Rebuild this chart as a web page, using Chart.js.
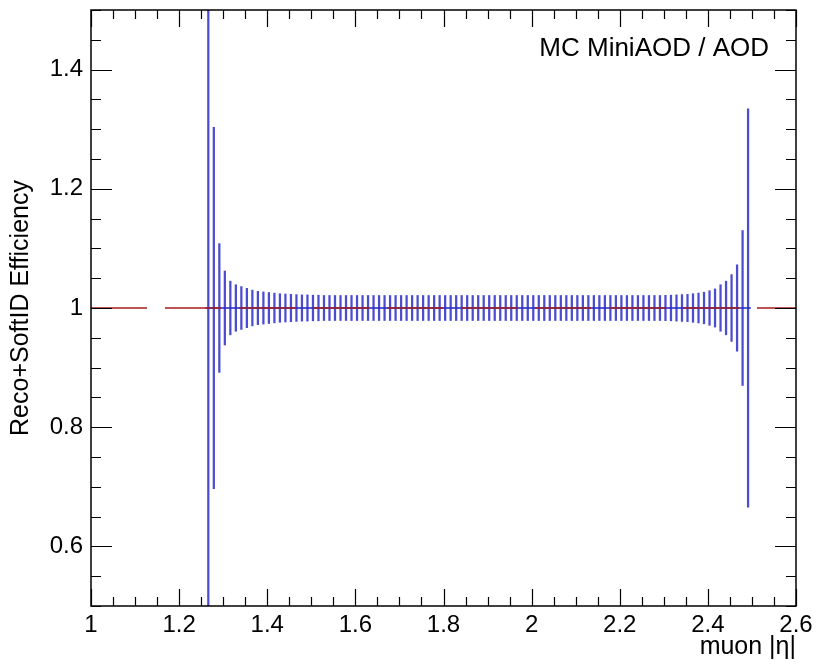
<!DOCTYPE html>
<html>
<head>
<meta charset="utf-8">
<script src="https://cdn.jsdelivr.net/npm/chart.js@4.4.1/dist/chart.umd.min.js"></script>
<style>
  html, body { margin: 0; padding: 0; background: #ffffff; }
  #c { display: block; }
</style>
</head>
<body>
<canvas id="c" width="820" height="664"></canvas>
<script>
// ---- data ----
const etaBins = [
  1.26625, 1.27875, 1.29125, 1.30375,
  1.31625, 1.32875, 1.34125, 1.35375,
  1.36625, 1.37875, 1.39125, 1.40375,
  1.41625, 1.42875, 1.44125, 1.45375,
  1.46625, 1.47875, 1.49125, 1.50375,
  1.51625, 1.52875, 1.54125, 1.55375,
  1.56625, 1.57875, 1.59125, 1.60375,
  1.61625, 1.62875, 1.64125, 1.65375,
  1.66625, 1.67875, 1.69125, 1.70375,
  1.71625, 1.72875, 1.74125, 1.75375,
  1.76625, 1.77875, 1.79125, 1.80375,
  1.81625, 1.82875, 1.84125, 1.85375,
  1.86625, 1.87875, 1.89125, 1.90375,
  1.91625, 1.92875, 1.94125, 1.95375,
  1.96625, 1.97875, 1.99125, 2.00375,
  2.01625, 2.02875, 2.04125, 2.05375,
  2.06625, 2.07875, 2.09125, 2.10375,
  2.11625, 2.12875, 2.14125, 2.15375,
  2.16625, 2.17875, 2.19125, 2.20375,
  2.21625, 2.22875, 2.24125, 2.25375,
  2.26625, 2.27875, 2.29125, 2.30375,
  2.31625, 2.32875, 2.34125, 2.35375,
  2.36625, 2.37875, 2.39125, 2.40375,
  2.41625, 2.42875, 2.44125, 2.45375,
  2.46625, 2.47875, 2.49125
];
const ratioValues = [
  1, 1, 1, 1, 1, 1, 1, 1, 1, 1,
  1, 1, 1, 1, 1, 1, 1, 1, 1, 1,
  1, 1, 1, 1, 1, 1, 1, 1, 1, 1,
  1, 1, 1, 1, 1, 1, 1, 1, 1, 1,
  1, 1, 1, 1, 1, 1, 1, 1, 1, 1,
  1, 1, 1, 1, 1, 1, 1, 1, 1, 1,
  1, 1, 1, 1, 1, 1, 1, 1, 1, 1,
  1, 1, 1, 1, 1, 1, 1, 1, 1, 1,
  1, 1, 1, 1, 1, 1, 1, 1, 1, 1,
  1, 1, 1, 1, 1, 1, 1, 1, 1
];
const ratioErrors = [
  0.600, 0.303, 0.108, 0.062, 0.045, 0.039, 0.036, 0.033, 0.030, 0.028,
  0.027, 0.026, 0.025, 0.024, 0.0235, 0.023, 0.0225, 0.022, 0.022, 0.0215,
  0.0215, 0.021, 0.021, 0.021, 0.021, 0.021, 0.021, 0.021, 0.021, 0.021,
  0.021, 0.021, 0.021, 0.021, 0.021, 0.021, 0.021, 0.021, 0.021, 0.021,
  0.021, 0.021, 0.021, 0.021, 0.021, 0.021, 0.021, 0.021, 0.021, 0.021,
  0.021, 0.021, 0.021, 0.021, 0.021, 0.021, 0.021, 0.021, 0.021, 0.021,
  0.021, 0.021, 0.021, 0.021, 0.021, 0.021, 0.021, 0.021, 0.021, 0.021,
  0.021, 0.021, 0.021, 0.021, 0.021, 0.021, 0.021, 0.021, 0.021, 0.021,
  0.021, 0.021, 0.021, 0.0213, 0.0215, 0.022, 0.0225, 0.023, 0.024, 0.025,
  0.0265, 0.029, 0.032, 0.039, 0.045, 0.056, 0.0725, 0.130, 0.334
];
const binEdges = [1.26, 2.4975];
const referenceLevel = [1, 2.6];   // y = 1 reference line spanning x from 1 to 2.6
const xTickValues = [1, 1.2, 1.4, 1.6, 1.8, 2, 2.2, 2.4, 2.6];
const yTickValues = [0.6, 0.8, 1, 1.2, 1.4];
const xRange = [1, 2.6];
const yRange = [0.5, 1.5];
const xTitle = 'muon |η|';
const yTitle = 'Reco+SoftID Efficiency';
const labelText = 'MC MiniAOD / AOD';

// ---- styles ----
const FONT = "'Liberation Sans', Arial, Helvetica, sans-serif";
const BLUE = 'rgba(45,45,200,0.85)';
const RED = '#a81c1c';

const errBars = etaBins.map((x, i) => ({ x: x, y: [ratioValues[i] - ratioErrors[i], ratioValues[i] + ratioErrors[i]] }));

const rootFrame = {
  id: 'rootFrame',
  afterDatasetsDraw(chart) {
    const { ctx, chartArea: a, scales } = chart;
    const xs = scales.x, ys = scales.y;
    ctx.save();
    ctx.strokeStyle = '#000000';
    ctx.lineWidth = 1.5;
    ctx.strokeRect(a.left, a.top, a.right - a.left, a.bottom - a.top);
    ctx.lineWidth = 1.2;
    ctx.beginPath();
    for (let k = 0; k <= Math.round((xs.max - xs.min) / 0.05); k++) {
      const v = xs.min + k * 0.05;
      const px = Math.round(xs.getPixelForValue(v)) + 0.5;
      const major = (k % 4 === 0);
      const len = major ? 17 : 9;
      ctx.moveTo(px, a.bottom); ctx.lineTo(px, a.bottom - len);
      ctx.moveTo(px, a.top); ctx.lineTo(px, a.top + len);
    }
    for (let k = 0; k <= Math.round((ys.max - ys.min) / 0.05); k++) {
      const v = ys.min + k * 0.05;
      const py = Math.round(ys.getPixelForValue(v)) + 0.5;
      const major = (k % 4 === 2);
      const len = major ? 21 : 10;
      ctx.moveTo(a.left, py); ctx.lineTo(a.left + len, py);
      ctx.moveTo(a.right, py); ctx.lineTo(a.right - len, py);
    }
    ctx.stroke();
    ctx.fillStyle = '#000000';
    ctx.font = '26px ' + FONT;
    ctx.textAlign = 'right';
    ctx.textBaseline = 'alphabetic';
    ctx.fillText(labelText, a.right - 27, a.top + 46);
    ctx.restore();
  }
};

new Chart(document.getElementById('c'), {
  type: 'bar',
  data: {
    datasets: [
      {
        type: 'line',
        label: 'ref',
        data: [{ x: referenceLevel[0], y: 1 }, { x: referenceLevel[1], y: 1 }],
        borderColor: RED,
        borderWidth: 1.6,
        borderDash: [56, 18],
        pointRadius: 0,
        order: 0
      },
      {
        type: 'bar',
        label: 'ratio',
        data: errBars,
        backgroundColor: BLUE,
        borderWidth: 0,
        barThickness: 1.6,
        grouped: false,
        order: 1
      },
      {
        type: 'line',
        label: 'xerr',
        data: [{ x: binEdges[0], y: 1 }, { x: binEdges[1], y: 1 }],
        borderColor: '#2020c0',
        borderWidth: 1.5,
        pointRadius: 0,
        order: 2
      }
    ]
  },
  options: {
    responsive: false,
    devicePixelRatio: 1,
    animation: false,
    layout: { padding: { left: 0, right: 24, top: 10, bottom: 0 } },
    plugins: { legend: { display: false }, tooltip: { enabled: false } },
    scales: {
      x: {
        type: 'linear',
        position: 'bottom',
        offset: false,
        min: xRange[0], max: xRange[1],
        grid: { display: false, drawTicks: false, offset: false },
        border: { display: false },
        afterBuildTicks: (s) => { s.ticks = xTickValues.map(v => ({ value: v })); },
        afterFit: (s) => { s.height = 58; s.paddingLeft = 0; s.paddingRight = 0; },
        ticks: {
          color: '#000000',
          font: { family: FONT, size: 24 },
          padding: 5,
          maxRotation: 0,
          autoSkip: false,
          callback: (v) => String(Math.round(v * 10) / 10)
        },
        title: {
          display: true,
          text: xTitle,
          align: 'end',
          color: '#000000',
          font: { family: FONT, size: 25 },
          padding: { top: 0, bottom: 2 }
        }
      },
      y: {
        type: 'linear',
        min: yRange[0], max: yRange[1],
        grid: { display: false, drawTicks: false },
        border: { display: false },
        afterBuildTicks: (s) => { s.ticks = yTickValues.map(v => ({ value: v })); },
        afterFit: (s) => { s.width = 91; s.paddingTop = 0; s.paddingBottom = 0; },
        ticks: {
          color: '#000000',
          font: { family: FONT, size: 24 },
          padding: 8,
          autoSkip: false,
          callback: (v) => String(Math.round(v * 10) / 10)
        },
        title: {
          display: true,
          text: yTitle,
          color: '#000000',
          font: { family: FONT, size: 25 },
          padding: { top: 6, bottom: 0 }
        }
      }
    }
  },
  plugins: [rootFrame]
});
</script>
</body>
</html>
